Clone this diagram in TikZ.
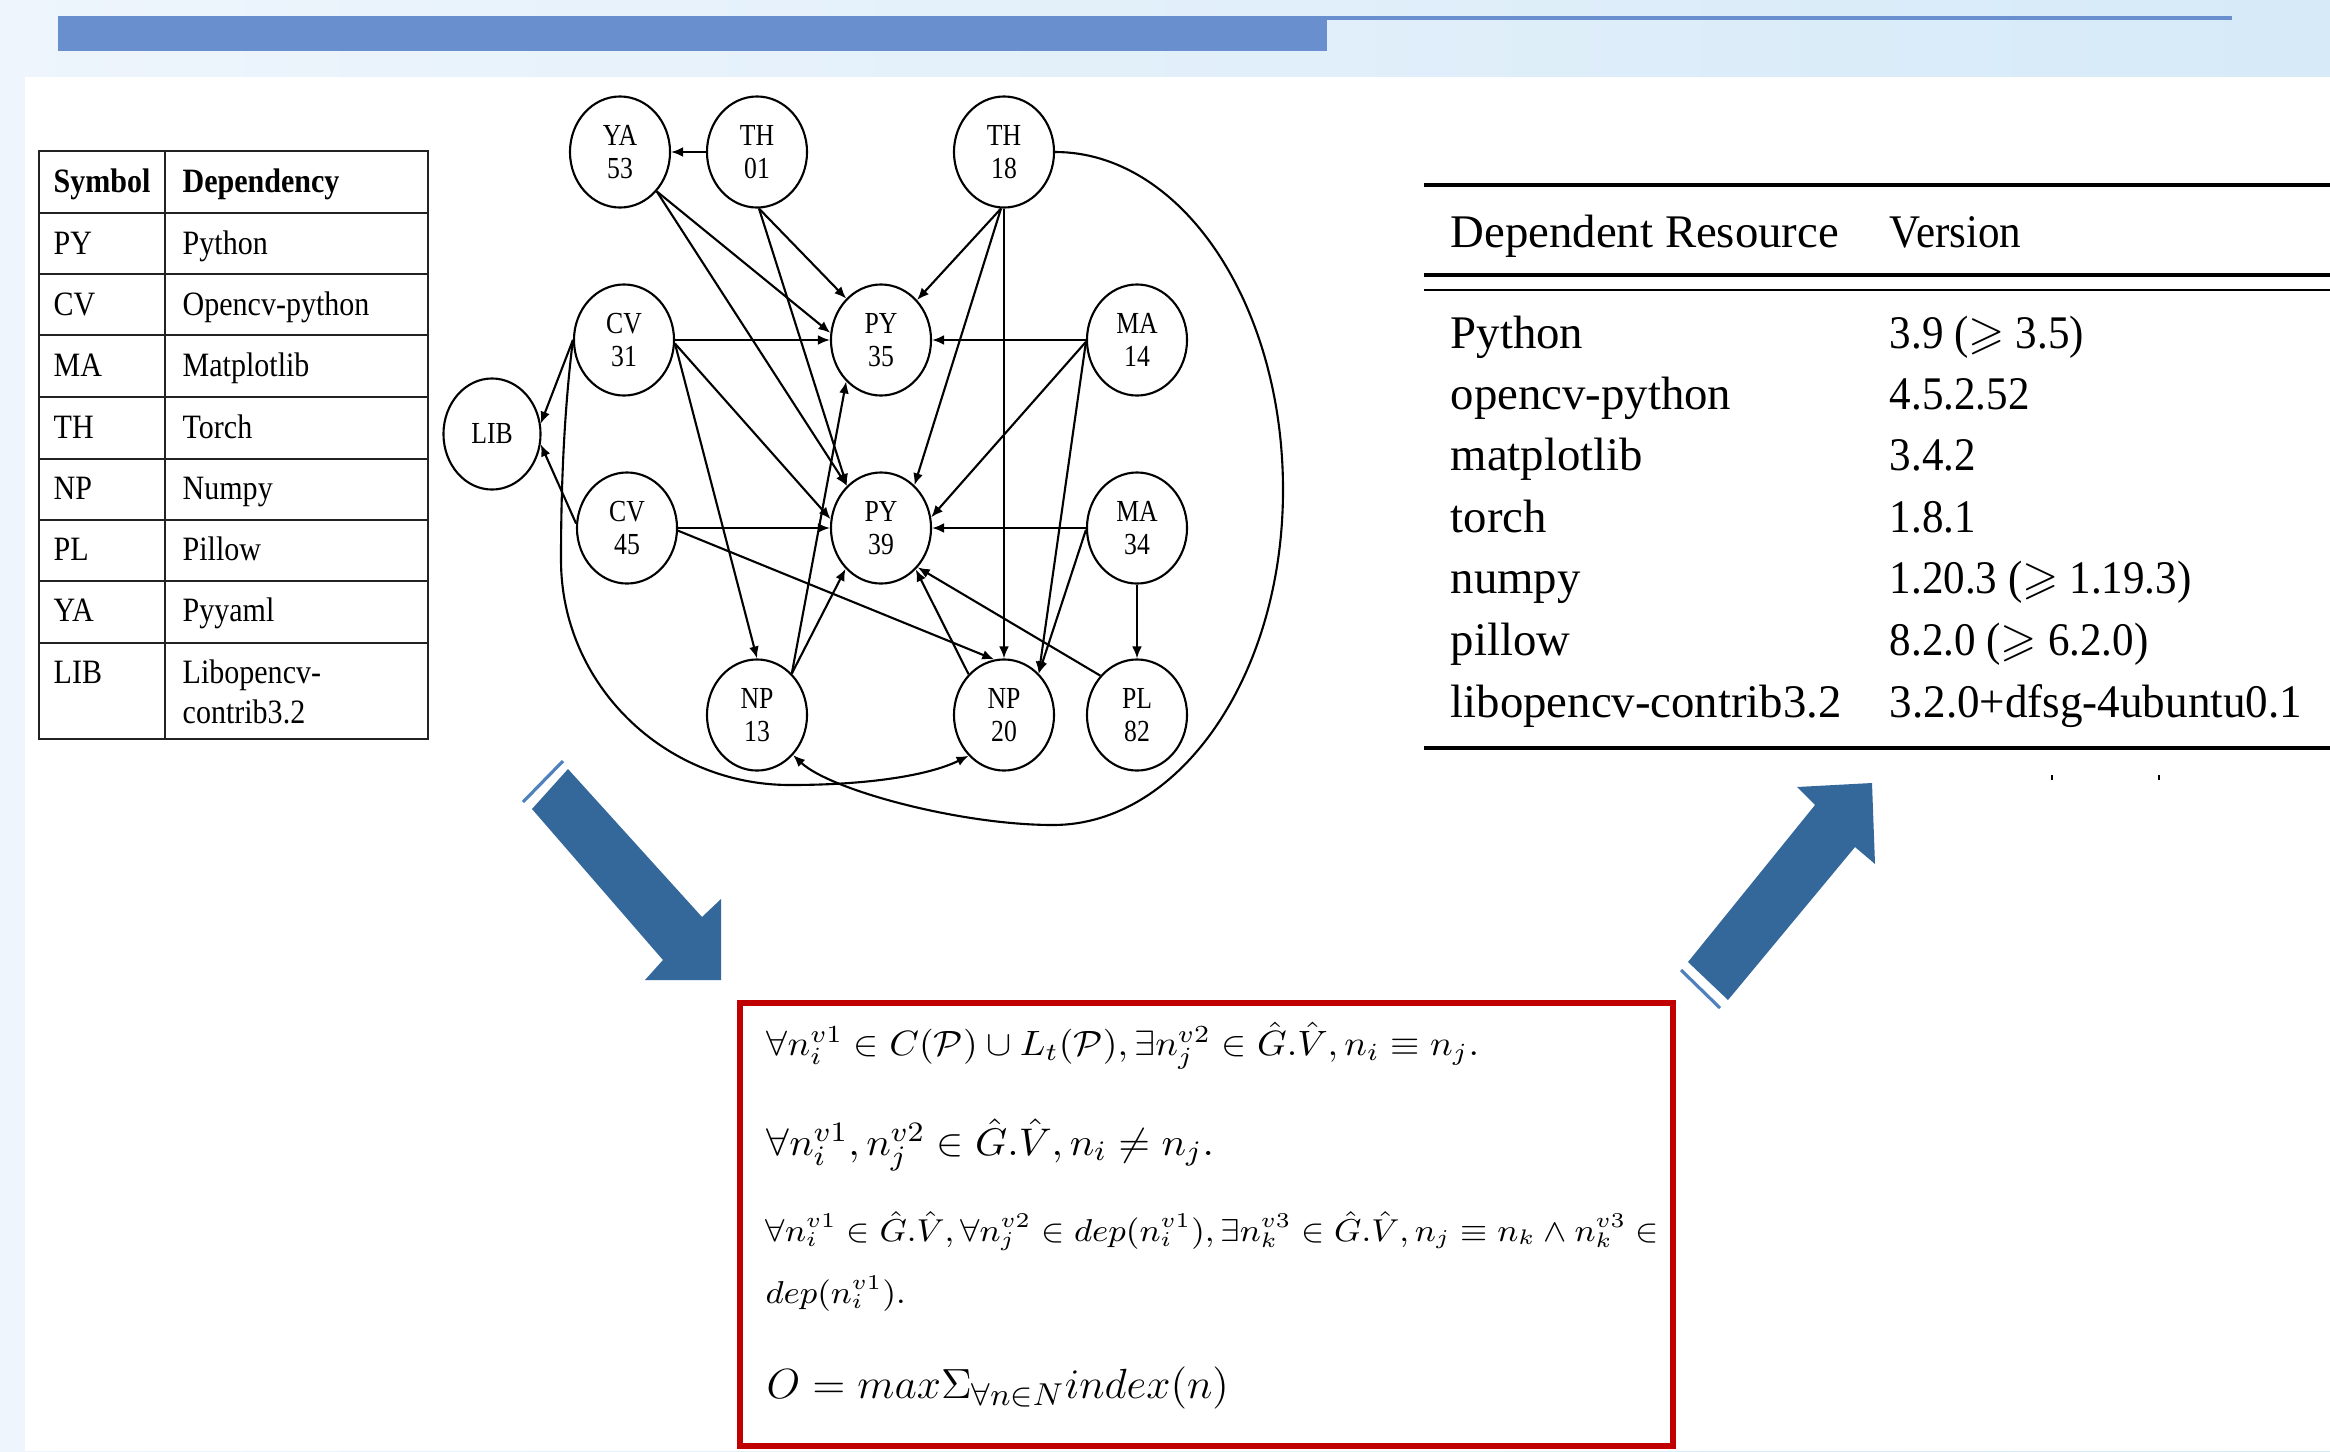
\documentclass[tikz,border=0pt]{standalone}
\usepackage{fontspec}
\usepackage{amssymb}
\usepackage{graphicx}
\usetikzlibrary{shapes.geometric,arrows.meta}
\setmainfont{Liberation Serif}
\newfontfamily\nodefont[FakeStretch=0.84]{Liberation Serif}
\newfontfamily\tabfont[FakeStretch=0.88]{Liberation Serif}
\newfontfamily\resfont{Liberation Serif}
\newfontfamily\verfont[FakeStretch=0.92]{Liberation Serif}
\definecolor{bgL}{RGB}{238,245,252}
\definecolor{bgR}{RGB}{214,234,248}
\definecolor{barblue}{RGB}{106,143,207}
\definecolor{arrblue}{RGB}{52,103,154}
\definecolor{hiblue}{RGB}{79,129,189}
\definecolor{boxred}{RGB}{192,0,0}
\definecolor{tabline}{RGB}{34,34,34}
\tikzset{
  gnode/.style={ellipse, draw, line width=0.6pt, minimum width=1cm, minimum height=1.11cm,
    inner sep=0pt, align=center, font=\nodefont\fontsize{8.7}{9.4}\selectfont},
  edge/.style={draw, line width=0.6pt, -{Latex[length=3.4pt,width=2.8pt]}},
  tabtxt/.style={anchor=base west, inner sep=0pt, font=\tabfont\fontsize{9.7}{11.4}\selectfont},
  tabrule/.style={draw=tabline, line width=0.7pt},
  restxt/.style={anchor=base west, inner sep=0pt, font=\resfont\fontsize{13.3}{15}\selectfont},
  vertxt/.style={anchor=base west, inner sep=0pt, font=\verfont\fontsize{13.3}{15}\selectfont},
  formula/.style={anchor=base west, inner sep=0pt},
  bigarrow/.style={fill=arrblue, draw=none},
  hiline/.style={draw=hiblue, line width=0.9pt}
}
\begin{document}
\begin{tikzpicture}[x=0.01cm,y=-0.01cm]
\useasboundingbox (0,0) rectangle (2330,1451);
% background
\shade[left color=bgL, right color=bgR] (0,0) rectangle (2330,1451);
\fill[white] (25,77) rectangle (2330,1451);
\fill[barblue] (58,16) rectangle (1327,51);
\fill[barblue] (1327,16) rectangle (2232,20);

% ---------- left table ----------
\draw[tabrule] (39,151) rectangle (428,739);
\draw[tabrule] (165,151) -- (165,739);
\foreach \yy in {213,274,335,397,459,520,581,643}
  \draw[tabrule] (39,\yy) -- (428,\yy);
\node[tabtxt] (h1) at (53,192) {\bfseries Symbol};
\node[tabtxt] (h2) at (182,192) {\bfseries Dependency};
\node[tabtxt] (s1) at (53,254) {PY};
\node[tabtxt] (d1) at (182,254) {Python};
\node[tabtxt] (s2) at (53,315) {CV};
\node[tabtxt] (d2) at (182,315) {Opencv-python};
\node[tabtxt] (s3) at (53,376) {MA};
\node[tabtxt] (d3) at (182,376) {Matplotlib};
\node[tabtxt] (s4) at (53,438) {TH};
\node[tabtxt] (d4) at (182,438) {Torch};
\node[tabtxt] (s5) at (53,499) {NP};
\node[tabtxt] (d5) at (182,499) {Numpy};
\node[tabtxt] (s6) at (53,560) {PL};
\node[tabtxt] (d6) at (182,560) {Pillow};
\node[tabtxt] (s7) at (53,621) {YA};
\node[tabtxt] (d7) at (182,621) {Pyyaml};
\node[tabtxt] (s8) at (53,683) {LIB};
\node[tabtxt] (d8) at (182,683) {Libopencv-};
\node[tabtxt] (d8b) at (182,723) {contrib3.2};

% ---------- graph ----------
\node[gnode] (YA)   at (620,152)  {YA\\53};
\node[gnode] (TH01) at (757,152)  {TH\\01};
\node[gnode] (TH18) at (1004,152) {TH\\18};
\node[gnode] (CV31) at (624,340)  {CV\\31};
\node[gnode] (PY35) at (881,340)  {PY\\35};
\node[gnode] (MA14) at (1137,340) {MA\\14};
\node[gnode, minimum width=0.97cm] (LIB) at (492,434) {LIB};
\node[gnode] (CV45) at (627,528)  {CV\\45};
\node[gnode] (PY39) at (881,528)  {PY\\39};
\node[gnode] (MA34) at (1137,528) {MA\\34};
\node[gnode] (NP13) at (757,715)  {NP\\13};
\node[gnode] (NP20) at (1004,715) {NP\\20};
\node[gnode] (PL82) at (1137,715) {PL\\82};

\draw[edge] (TH01.west) -- (YA.east);
\draw[edge] (YA.-47) -- (PY35.172);
\draw[edge] (YA.-47) -- (PY39.129);
\draw[edge] (TH01.-88) -- (PY35.130);
\draw[edge] (TH01.-88) -- (PY39.129);
\draw[edge] (TH18.-93) -- (PY35.48);
\draw[edge] (TH18.-93) -- (PY39.52);
\draw[edge] (TH18.south) -- (NP20.north);
\draw[edge] (TH18.east) .. controls (1181,152) and (1283,303) .. (1283,490)
   .. controls (1283,675) and (1180,825) .. (1053,825)
   .. controls (960,825) and (830,790) .. (NP13.-48);
\draw[edge] (CV31.west) -- (LIB.12);
\draw[edge] (CV45.175) -- (LIB.-12);
\draw[edge] (CV31.east) -- (PY35.west);
\draw[edge] (CV31.-4) -- (PY39.170);
\draw[edge] (CV31.-4) -- (NP13.north);
\draw[edge] (CV31.west) .. controls (563,420) and (561,500) .. (561,560)
   .. controls (561,684) and (664,785) .. (790,785)
   .. controls (870,785) and (930,775) .. (NP20.-131);
\draw[edge] (CV45.east) -- (PY39.west);
\draw[edge] (CV45.-3) -- (NP20.100);
\draw[edge] (NP13.50) -- (PY35.-130);
\draw[edge] (NP13.50) -- (PY39.-131);
\draw[edge] (MA14.west) -- (PY35.east);
\draw[edge] (MA14.182) -- (PY39.12);
\draw[edge] (MA14.182) -- (NP20.50);
\draw[edge] (MA34.west) -- (PY39.east);
\draw[edge] (MA34.182) -- (NP20.50);
\draw[edge] (MA34.south) -- (PL82.north);
\draw[edge] (PL82.133) -- (PY39.-47);
\draw[edge] (NP20.131) -- (PY39.-50);

% ---------- right table ----------
\draw[line width=1.4pt] (1424,185) -- (2330,185);
\node[restxt] (rh1) at (1450,247) {Dependent Resource};
\node[vertxt] (rh2) at (1889,247) {Version};
\draw[line width=1.2pt] (1424,275) -- (2330,275);
\draw[line width=0.6pt] (1424,290) -- (2330,290);
\node[restxt] (r1) at (1450,348) {Python};
\node[vertxt] (v1) at (1889,348) {3.9 ($\geqslant$ 3.5)};
\node[restxt] (r2) at (1450,409) {opencv-python};
\node[vertxt] (v2) at (1889,409) {4.5.2.52};
\node[restxt] (r3) at (1450,470) {matplotlib};
\node[vertxt] (v3) at (1889,470) {3.4.2};
\node[restxt] (r4) at (1450,532) {torch};
\node[vertxt] (v4) at (1889,532) {1.8.1};
\node[restxt] (r5) at (1450,593) {numpy};
\node[vertxt] (v5) at (1889,593) {1.20.3 ($\geqslant$ 1.19.3)};
\node[restxt] (r6) at (1450,655) {pillow};
\node[vertxt] (v6) at (1889,655) {8.2.0 ($\geqslant$ 6.2.0)};
\node[restxt] (r7) at (1450,717) {libopencv-contrib3.2};
\node[vertxt] (v7) at (1889,717) {\resizebox{4.12cm}{\height}{3.2.0+dfsg-4ubuntu0.1}};
\draw[line width=1.4pt] (1424,748) -- (2330,748);
\draw[line width=0.7pt] (2052,775) -- (2052,780);
\draw[line width=0.7pt] (2159,775) -- (2159,780);

% ---------- big arrows ----------
\fill[bigarrow] (532,809) -- (568,769) -- (702,917) -- (721,899) -- (721,980)
   -- (645,980) -- (663,960) -- cycle;
\draw[hiline] (523,802) -- (563,761);
\fill[bigarrow] (1688,962) -- (1815,805) -- (1797,787) -- (1872,783) -- (1875,864)
   -- (1855,847) -- (1728,1000) -- cycle;
\draw[hiline] (1681,970) -- (1720,1008);

% ---------- formula box ----------
\draw[draw=boxred, line width=1.7pt] (740,1003) rectangle (1673,1446);
\node[formula] (f1) at (766,1055) {\fontsize{10.4}{12}\selectfont\resizebox{7.12cm}{\height}{$\forall n_i^{v1} \in C(\mathcal{P}) \cup L_t(\mathcal{P}), \exists n_j^{v2} \in \hat{G}.\hat{V}, n_i \equiv n_j.$}};
\node[formula] (f2) at (766,1155) {\fontsize{10.8}{12}\selectfont\resizebox{4.47cm}{\height}{$\forall n_i^{v1}, n_j^{v2} \in \hat{G}.\hat{V}, n_i \neq n_j.$}};
\node[formula] (f3) at (765,1241) {\fontsize{9.0}{11}\selectfont\resizebox{8.93cm}{\height}{$\forall n_i^{v1} \in \hat{G}.\hat{V}, \forall n_j^{v2} \in dep(n_i^{v1}), \exists n_k^{v3} \in \hat{G}.\hat{V}, n_j \equiv n_k \wedge n_k^{v3} \in$}};
\node[formula] (f4) at (765,1303) {\fontsize{9.0}{11}\selectfont\resizebox{1.40cm}{\height}{$dep(n_i^{v1}).$}};
\node[formula] (f5) at (766,1398) {\fontsize{12.5}{14}\selectfont\resizebox{4.62cm}{\height}{$O = max\Sigma_{\forall n\in N} index(n)$}};
\end{tikzpicture}
\end{document}
